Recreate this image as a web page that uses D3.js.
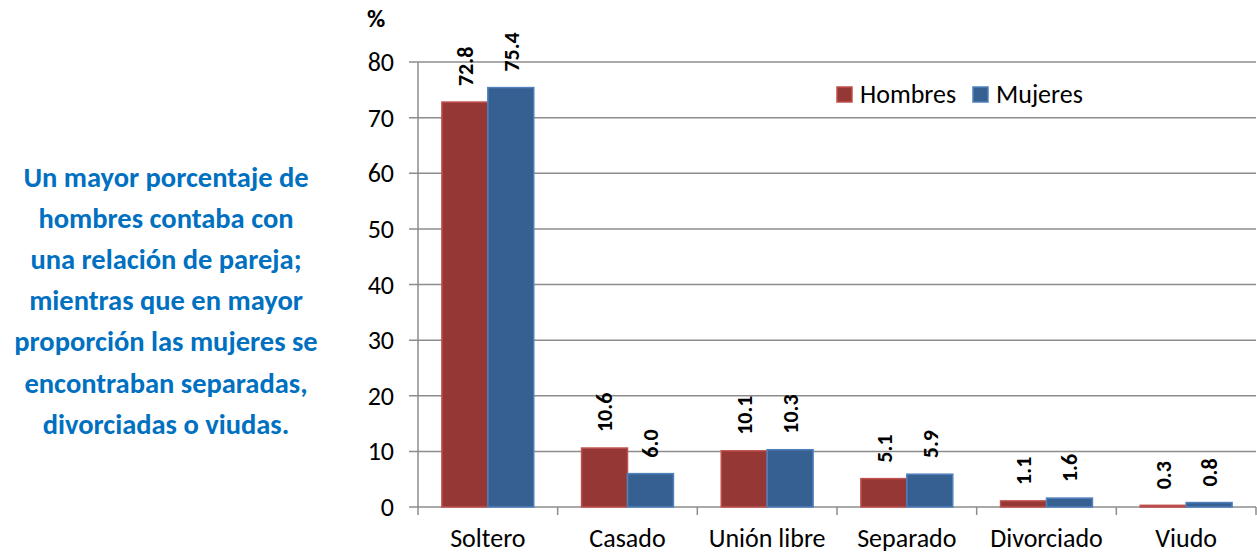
<!DOCTYPE html>
<html>
<head>
<meta charset="utf-8">
<script src="https://cdn.jsdelivr.net/npm/d3@7"></script>
<style>
  body { margin: 0; background: #fff; }
  svg { display: block; font-family: Carlito, Calibri, Lato, sans-serif; }
</style>
</head>
<body>
<svg id="chart" width="1257" height="555"></svg>
<script>
// data
var categories = ["Soltero", "Casado", "Unión libre", "Separado", "Divorciado", "Viudo"];
var hombres = [72.8, 10.6, 10.1, 5.1, 1.1, 0.3];
var mujeres = [75.4, 6.0, 10.3, 5.9, 1.6, 0.8];
var seriesNames = ["Hombres", "Mujeres"];
var yTicks = [0, 10, 20, 30, 40, 50, 60, 70, 80];
var noteLines = ["Un mayor porcentaje de", "hombres contaba con", "una relación de pareja;",
  "mientras que en mayor", "proporción las mujeres se", "encontraban separadas,", "divorciadas o viudas."];

var fills = ["#953735", "#376092"];
var strokes = ["#c0504d", "#4f81bd"];

var svg = d3.select("#chart");
var margin = {top: 62, left: 418, right: 1, bottom: 48};
var width = 1257 - margin.left - margin.right;
var height = 507 - margin.top;

var g = svg.append("g").attr("transform", "translate(" + margin.left + "," + margin.top + ")");

var x = d3.scaleBand().domain(categories).range([0, width]).paddingInner(0).paddingOuter(0);
var x1 = d3.scaleBand().domain(seriesNames).range([0, x.bandwidth()]).paddingInner(0).paddingOuter(0.52);
var y = d3.scaleLinear().domain([0, 80]).range([height, 0]);

// gridlines
g.append("g").selectAll("line").data(yTicks).enter().append("line")
  .attr("x1", -9).attr("x2", width)
  .attr("y1", function(d) { return y(d); }).attr("y2", function(d) { return y(d); })
  .attr("stroke", "#8c8c8c").attr("stroke-width", 1.5);

// y tick labels
g.append("g").selectAll("text").data(yTicks).enter().append("text")
  .attr("x", -24).attr("y", function(d) { return y(d); })
  .attr("dy", "0.35em").attr("text-anchor", "end")
  .style("font-size", "26px").attr("fill", "#000")
  .text(function(d) { return d; });

// y axis line
g.append("line").attr("x1", 0).attr("x2", 0).attr("y1", 0).attr("y2", height)
  .attr("stroke", "#8c8c8c").attr("stroke-width", 1.5);

// x axis ticks
var bounds = d3.range(categories.length + 1).map(function(i) { return i * x.step(); });
g.append("g").selectAll("line").data(bounds).enter().append("line")
  .attr("x1", function(d) { return d; }).attr("x2", function(d) { return d; })
  .attr("y1", height).attr("y2", height + 8)
  .attr("stroke", "#8c8c8c").attr("stroke-width", 1.5);

// x labels
g.append("g").selectAll("text").data(categories).enter().append("text")
  .attr("x", function(d) { return x(d) + x.bandwidth() / 2; })
  .attr("y", height + 40)
  .attr("text-anchor", "middle").style("font-size", "26px").attr("fill", "#000")
  .text(function(d) { return d; });

// bars
var rows = categories.map(function(c, i) {
  return {cat: c, vals: [{s: "Hombres", v: hombres[i], k: 0}, {s: "Mujeres", v: mujeres[i], k: 1}]};
});

var grp = g.selectAll(".cat").data(rows).enter().append("g")
  .attr("transform", function(d) { return "translate(" + x(d.cat) + ",0)"; });

grp.selectAll("rect").data(function(d) { return d.vals; }).enter().append("rect")
  .attr("x", function(d) { return x1(d.s); })
  .attr("width", x1.bandwidth())
  .attr("y", function(d) { return y(d.v); })
  .attr("height", function(d) { return height - y(d.v); })
  .attr("fill", function(d) { return fills[d.k]; })
  .attr("stroke", function(d) { return strokes[d.k]; })
  .attr("stroke-width", 1.5);

grp.selectAll("text.val").data(function(d) { return d.vals; }).enter().append("text")
  .attr("class", "val")
  .attr("transform", function(d) {
    return "translate(" + (x1(d.s) + x1.bandwidth() / 2) + "," + (y(d.v) - 16) + ") rotate(-90)";
  })
  .attr("dy", "0.35em").attr("text-anchor", "start")
  .style("font-size", "22px").style("font-weight", "bold").attr("fill", "#000")
  .text(function(d) { return d.v.toFixed(1); });

// % label
svg.append("text").attr("x", 367).attr("y", 27)
  .style("font-size", "25px").style("font-weight", "bold").text("%");

// legend
var leg = svg.append("g").attr("transform", "translate(837,87)");
var legX = [0, 136];
seriesNames.forEach(function(s, i) {
  leg.append("rect").attr("x", legX[i]).attr("y", 0).attr("width", 15).attr("height", 15)
    .attr("fill", fills[i]).attr("stroke", strokes[i]).attr("stroke-width", 1.5);
  leg.append("text").attr("x", legX[i] + 23).attr("y", 16)
    .style("font-size", "26px").attr("fill", "#000").text(s);
});

// note text
svg.append("g").selectAll("text").data(noteLines).enter().append("text")
  .attr("x", 166).attr("y", function(d, i) { return 187 + i * 41.1; })
  .attr("text-anchor", "middle")
  .style("font-size", "28.5px").style("font-weight", "bold").attr("fill", "#0070c0")
  .text(function(d) { return d; });
</script>
</body>
</html>
